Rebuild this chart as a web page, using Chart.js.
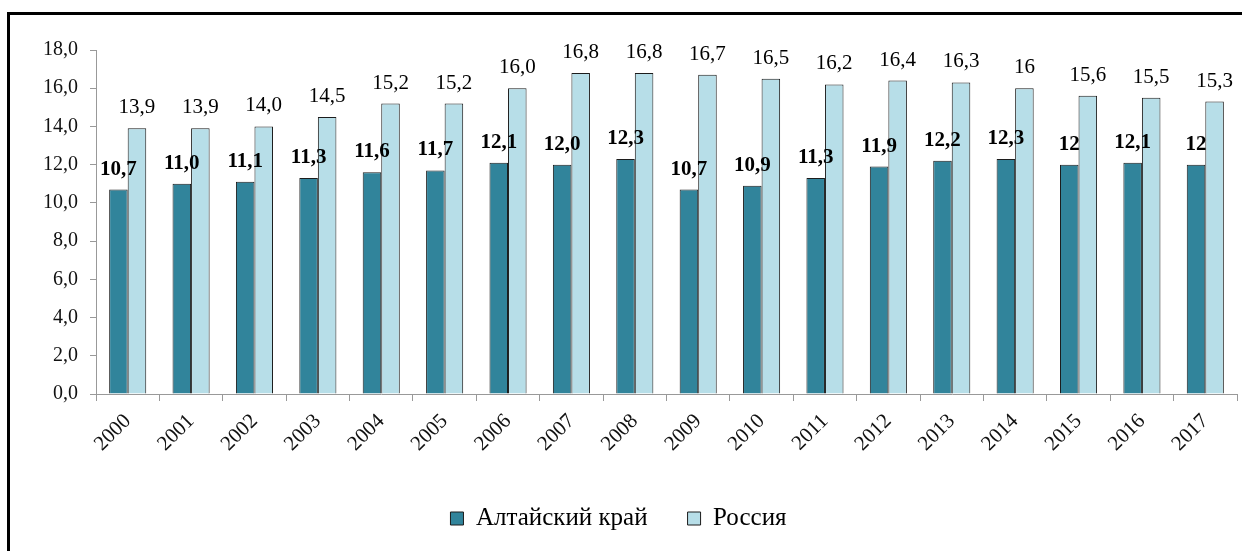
<!DOCTYPE html>
<html>
<head>
<meta charset="utf-8">
<script src="https://cdn.jsdelivr.net/npm/chart.js@4.4.0/dist/chart.umd.min.js"></script>
<style>
  html, body { margin: 0; padding: 0; background: #fff; }
  #wrap { position: relative; width: 1242px; height: 551px; overflow: hidden; }
  #frame {
    position: absolute; left: 7px; top: 12px; width: 1300px; height: 600px;
    border-top: 3px solid #000; border-left: 3px solid #000;
  }
  #chart { position: absolute; left: 0; top: 0; }
</style>
</head>
<body>
<div id="wrap">
  <div id="frame"></div>
  <canvas id="chart" width="1242" height="551"></canvas>
</div>
<script>
// -------------------- DATA --------------------
const years = ["2000","2001","2002","2003","2004","2005","2006","2007","2008",
               "2009","2010","2011","2012","2013","2014","2015","2016","2017"];
const altai = [10.7, 11.0, 11.1, 11.3, 11.6, 11.7, 12.1, 12.0, 12.3,
               10.7, 10.9, 11.3, 11.9, 12.2, 12.3, 12, 12.1, 12];
const russia = [13.9, 13.9, 14.0, 14.5, 15.2, 15.2, 16.0, 16.8, 16.8,
                16.7, 16.5, 16.2, 16.4, 16.3, 16, 15.6, 15.5, 15.3];
// labels as printed on the original (some without decimals)
const altaiLabels = ["10,7","11,0","11,1","11,3","11,6","11,7","12,1","12,0","12,3",
                     "10,7","10,9","11,3","11,9","12,2","12,3","12","12,1","12"];
const russiaLabels = ["13,9","13,9","14,0","14,5","15,2","15,2","16,0","16,8","16,8",
                      "16,7","16,5","16,2","16,4","16,3","16","15,6","15,5","15,3"];

const SERIF = "'Liberation Serif', 'Times New Roman', serif";

// -------------------- VALUE LABELS --------------------
const valueLabels = {
  id: "valueLabels",
  afterDatasetsDraw(chart) {
    const ctx = chart.ctx;
    const texts = [altaiLabels, russiaLabels];
    chart.data.datasets.forEach((ds, di) => {
      const meta = chart.getDatasetMeta(di);
      ctx.save();
      ctx.fillStyle = "#000";
      ctx.textAlign = "center";
      ctx.textBaseline = "alphabetic";
      ctx.font = (di === 0 ? "bold " : "") + "21px " + SERIF;
      meta.data.forEach((bar, i) => {
        ctx.fillText(texts[di][i], bar.x, bar.y - 15);
      });
      ctx.restore();
    });
  }
};

// -------------------- CHART --------------------
const ctx = document.getElementById("chart").getContext("2d");

new Chart(ctx, {
  type: "bar",
  data: {
    labels: years,
    datasets: [
      {
        label: "Алтайский край",
        data: altai,
        backgroundColor: "#31849b",
        borderColor: "#1c1c1c",
        borderWidth: 1,
        categoryPercentage: 0.585,
        barPercentage: 1.0,
      },
      {
        label: "Россия",
        data: russia,
        backgroundColor: "#b7dee8",
        borderColor: "#1c1c1c",
        borderWidth: 1,
        categoryPercentage: 0.585,
        barPercentage: 1.0,
      },
    ],
  },
  options: {
    responsive: false,
    animation: false,
    layout: { padding: { top: 50, right: 5, left: 0, bottom: 10 } },
    plugins: {
      tooltip: { enabled: false },
      legend: {
        position: "bottom",
        labels: {
          font: { family: SERIF, size: 25 },
          color: "#000",
          boxWidth: 13,
          boxHeight: 13,
          padding: 40,
        },
      },
    },
    scales: {
      x: {
        grid: {
          display: true,
          drawOnChartArea: false,
          offset: true,
          tickLength: 7,
          color: "#999",
        },
        border: { color: "#999", width: 1 },
        ticks: {
          font: { family: SERIF, size: 21 },
          color: "#111",
          minRotation: 45,
          maxRotation: 45,
          padding: 8,
        },
        afterFit(scale) { scale.height = 72; },
      },
      y: {
        min: 0,
        max: 18,
        grid: {
          display: true,
          drawOnChartArea: false,
          tickLength: 6,
          color: "#999",
        },
        border: { color: "#999", width: 1 },
        ticks: {
          stepSize: 2,
          font: { family: SERIF, size: 20 },
          color: "#111",
          padding: 12,
          callback: (v) => v.toFixed(1).replace(".", ","),
        },
        afterFit(scale) { scale.width = 96; },
      },
    },
  },
  plugins: [valueLabels],
});
</script>
</body>
</html>
